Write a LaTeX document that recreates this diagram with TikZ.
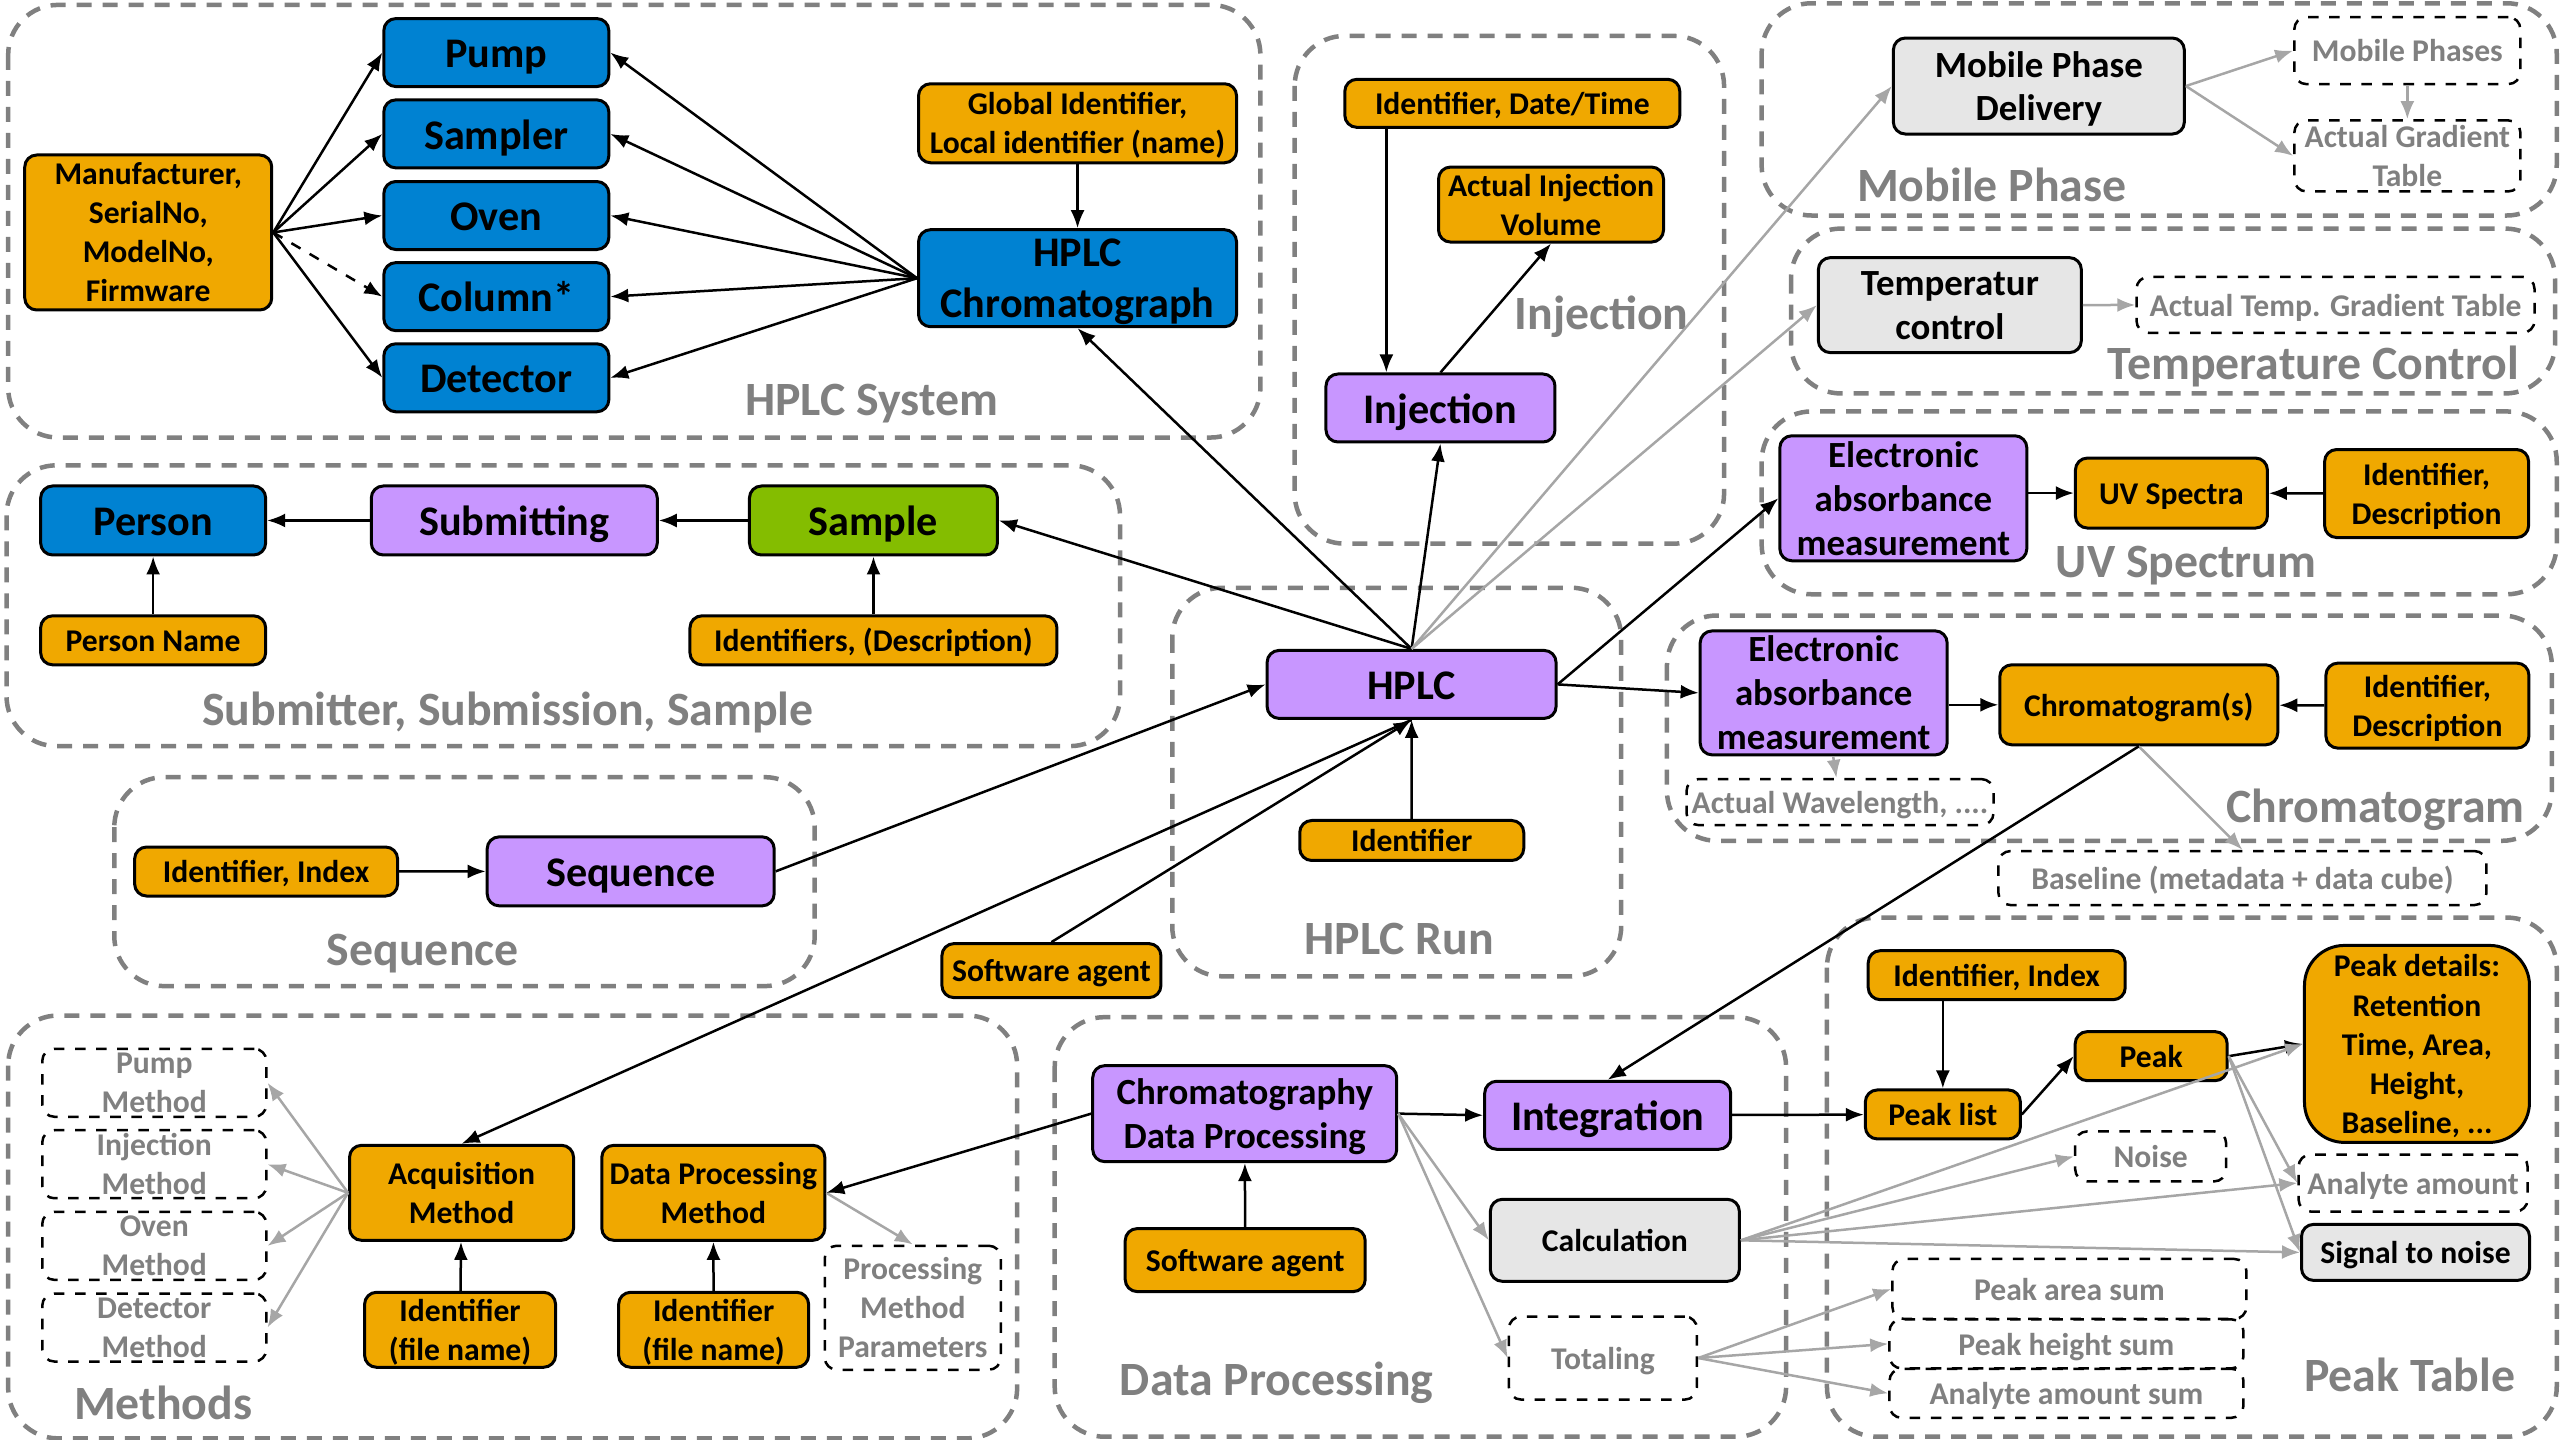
\documentclass[tikz,border=0pt]{standalone}
\usepackage{fontspec}
\setmainfont{Carlito}
\usetikzlibrary{arrows.meta}

\definecolor{hblue}{RGB}{0,130,210}
\definecolor{horange}{RGB}{240,168,0}
\definecolor{hpurple}{RGB}{200,150,255}
\definecolor{hgreen}{RGB}{132,189,0}
\definecolor{hgrey}{RGB}{230,230,230}
\definecolor{htext}{RGB}{128,128,128}
\definecolor{hline}{RGB}{166,166,166}

\newcommand{\bigtxt}{\fontsize{12}{14.4}\selectfont\bfseries}
\newcommand{\midtxt}{\fontsize{10.5}{12.5}\selectfont\bfseries}
\newcommand{\smalltxt}{\fontsize{9}{11.1}\selectfont\bfseries}
\newcommand{\grouptxt}{\fontsize{13.6}{16}\selectfont\bfseries}
\newcommand{\boxstrut}{\rule[-0.22em]{0pt}{1.16em}}

\tikzset{
  box/.style={draw=black, line width=0.3mm, rounded corners=1.2mm, inner sep=0pt, align=center,
    execute at begin node=\boxstrut, execute at end node=\boxstrut},
  multi/.style={text depth=-0.4pt},
  sz/.style 2 args={minimum width=#1mm, minimum height=#2mm},
  bluebox/.style={box, fill=hblue, font=\bigtxt},
  purplebox/.style={box, fill=hpurple, font=\bigtxt},
  greenbox/.style={box, fill=hgreen, font=\bigtxt},
  orangebox/.style={box, fill=horange, font=\smalltxt},
  greybox/.style={box, fill=hgrey, font=\midtxt},
  dashbox/.style={box, draw=black, dashed, line width=0.25mm, text=htext, font=\smalltxt},
  group/.style={draw=htext, line width=0.45mm, dash pattern=on 1.5mm off 1.1mm, rounded corners=5mm},
  grouplabel/.style={text=htext, font=\grouptxt, inner sep=0pt,
    execute at begin node=\boxstrut, execute at end node=\boxstrut},
  arr/.style={-{Latex[length=1.8mm,width=1.4mm]}, line width=0.25mm},
  garr/.style={arr, draw=hline}
}

\begin{document}
\begin{tikzpicture}[x=0.16327mm, y=-0.16327mm]
  \useasboundingbox (0,0) rectangle (1568,882);
  % groups
  \draw[group] (5,3) rectangle (772,268);
  \draw[group] (793,22) rectangle (1056,333);
  \draw[group] (1079,2) rectangle (1566,132);
  \draw[group] (1097,140) rectangle (1565,241);
  \draw[group] (1079,252) rectangle (1566,364);
  \draw[group] (4,285) rectangle (686,457);
  \draw[group] (718,360) rectangle (993,598);
  \draw[group] (1021,377) rectangle (1563,515);
  \draw[group] (70,476) rectangle (499,604);
  \draw[group] (5,622) rectangle (623,881);
  \draw[group] (646,623) rectangle (1094,880);
  \draw[group] (1119,562) rectangle (1566,880);
  \node[grouplabel] (lsystem) at (534,244) {HPLC System};
  \node[grouplabel] (linjection) at (981,191) {Injection};
  \node[grouplabel] (lmobile) at (1220,113) {Mobile Phase};
  \node[grouplabel] (ltemp) at (1417,222) {Temperature Control};
  \node[grouplabel] (luv) at (1339,343) {UV Spectrum};
  \node[grouplabel] (lsubmit) at (311,434) {Submitter, Submission, Sample};
  \node[grouplabel] (lrun) at (857,574) {HPLC Run};
  \node[grouplabel] (lchrom) at (1455,493) {Chromatogram};
  \node[grouplabel] (lsequence) at (259,581) {Sequence};
  \node[grouplabel] (lmethods) at (100,859) {Methods};
  \node[grouplabel] (ldata) at (782,844) {Data Processing};
  \node[grouplabel] (lpeak) at (1476,842) {Peak Table};

  % HPLC system
  \node[bluebox, sz={22.5}{6.8}] (pump) at (304,32.2) {Pump};
  \node[bluebox, sz={22.5}{6.8}] (sampler) at (304,82) {Sampler};
  \node[bluebox, sz={22.5}{6.8}] (oven) at (304,132) {Oven};
  \node[bluebox, sz={22.5}{6.8}] (column) at (304,181.7) {Column*};
  \node[bluebox, sz={22.5}{6.8}] (detector) at (304,231.4) {Detector};
  \node[orangebox, multi, sz={24.7}{15.5}] (manuf) at (90.8,142.4) {Manufacturer,\\SerialNo,\\ModelNo,\\Firmware};
  \node[orangebox, multi, sz={31.8}{7.9}] (globalid) at (660,75.5) {Global Identifier,\\Local identifier (name)};
  \node[bluebox, multi, sz={31.8}{9.7}] (chromatograph) at (660,170.4) {HPLC\\Chromatograph};

  % injection
  \node[orangebox, sz={33.5}{4.8}] (iddate) at (926.3,63.3) {Identifier, Date/Time};
  \node[orangebox, multi, sz={22.5}{7.5}] (volume) at (950,125.3) {Actual Injection\\Volume};
  \node[purplebox, sz={22.9}{6.8}] (injection) at (882.3,249.9) {Injection};

  % mobile phase, temperature
  \node[greybox, multi, sz={29.1}{9.6}] (mpdelivery) at (1248.8,52.7) {Mobile Phase\\Delivery};
  \node[dashbox, sz={22.6}{6.7}] (mphases) at (1474.5,31) {Mobile Phases};
  \node[dashbox, multi, sz={22.6}{7.1}] (gradient) at (1474.5,95.5) {Actual Gradient\\Table};
  \node[greybox, multi, sz={26.3}{9.5}] (tempctrl) at (1194.3,186.9) {Temperatur\\control};
  \node[dashbox, sz={39.8}{5.6}] (tempgrad) at (1430.5,186.7) {Actual Temp. Gradient Table};

  % UV spectrum
  \node[purplebox, multi, font=\midtxt, sz={24.7}{12.5}] (uvabs) at (1165.8,305.2) {Electronic\\absorbance\\measurement};
  \node[orangebox, sz={19.2}{7}] (uvspectra) at (1330,302) {UV Spectra};
  \node[orangebox, multi, sz={20.4}{8.8}] (uvid) at (1486.3,302.3) {Identifier,\\Description};

  % submitter, sample
  \node[bluebox, sz={22.5}{6.9}] (person) at (93.8,318.8) {Person};
  \node[purplebox, sz={28.6}{6.9}] (submitting) at (315,318.8) {Submitting};
  \node[greenbox, sz={24.8}{6.9}] (sample) at (535,318.8) {Sample};
  \node[orangebox, sz={22.5}{4.9}] (personname) at (93.8,392.2) {Person Name};
  \node[orangebox, sz={36.7}{4.9}] (sampleid) at (535,392.2) {Identifiers, (Description)};

  % HPLC run
  \node[purplebox, sz={28.9}{6.8}] (hplc) at (864.6,419.2) {HPLC};
  \node[orangebox, sz={22.4}{4}] (runid) at (864.7,514.8) {Identifier};
  \node[orangebox, sz={21.9}{5.4}] (swagent) at (644,594.5) {Software agent};

  % chromatogram
  \node[purplebox, multi, font=\midtxt, sz={24.7}{12.4}] (chabs) at (1117,424.4) {Electronic\\absorbance\\measurement};
  \node[orangebox, sz={27.8}{8}] (chroms) at (1310,431.7) {Chromatogram(s)};
  \node[orangebox, multi, sz={20.3}{8.5}] (chid) at (1486.8,432.2) {Identifier,\\Description};
  \node[dashbox, sz={30.7}{4.6}] (wavelength) at (1127,491.3) {Actual Wavelength, ....};
  \node[dashbox, sz={48.8}{5.4}] (baseline) at (1373.5,537.8) {Baseline (metadata + data cube)};

  % sequence
  \node[orangebox, sz={26.3}{4.9}] (seqid) at (163,533.8) {Identifier, Index};
  \node[purplebox, sz={28.7}{6.9}] (sequence) at (386.3,533.7) {Sequence};

  % methods
  \node[dashbox, multi, sz={22.4}{6.8}] (pumpm) at (94.5,663.2) {Pump\\Method};
  \node[dashbox, multi, sz={22.4}{6.8}] (injm) at (94.5,713.1) {Injection\\Method};
  \node[dashbox, multi, sz={22.4}{6.8}] (ovenm) at (94.5,763.1) {Oven\\Method};
  \node[dashbox, multi, sz={22.4}{6.8}] (detm) at (94.5,813.1) {Detector\\Method};
  \node[orangebox, multi, sz={22.4}{9.5}] (acqm) at (282.7,730.6) {Acquisition\\Method};
  \node[orangebox, multi, sz={22.3}{9.5}] (dpm) at (436.9,730.6) {Data Processing\\Method};
  \node[orangebox, multi, sz={19.1}{7.5}] (acqid) at (281.8,814.5) {Identifier\\(file name)};
  \node[orangebox, multi, sz={19}{7.5}] (dpid) at (437.1,814.5) {Identifier\\(file name)};
  \node[dashbox, multi, sz={17.6}{12.4}] (params) at (559.1,801) {Processing\\Method\\Parameters};

  % data processing
  \node[purplebox, multi, font=\midtxt, sz={30.4}{9.6}] (cdp) at (762.4,682.1) {Chromatography\\Data Processing};
  \node[orangebox, sz={24}{6.3}] (dpagent) at (762.7,771.8) {Software agent};
  \node[purplebox, sz={24.6}{6.8}] (integration) at (984.7,683.1) {Integration};
  \node[greybox, font=\smalltxt, sz={24.9}{8.2}] (calculation) at (989.1,759.7) {Calculation};
  \node[dashbox, sz={18.8}{8.3}] (totaling) at (981.8,831.8) {Totaling};

  % peak table
  \node[orangebox, sz={25.7}{4.9}] (pkid) at (1223,597.3) {Identifier, Index};
  \node[orangebox, sz={15.5}{4.9}] (peaklist) at (1190,682.6) {Peak list};
  \node[orangebox, sz={15.2}{4.9}] (peak) at (1317.6,646.9) {Peak};
  \node[orangebox, multi, rounded corners=4mm, sz={22.5}{19.7}] (details) at (1480.4,639.4)
    {Peak details:\\Retention\\Time, Area,\\Height,\\Baseline, ...};
  \node[dashbox, sz={15.1}{5}] (noise) at (1317.3,708.3) {Noise};
  \node[dashbox, sz={22.9}{5.7}] (analyte) at (1478,724.6) {Analyte amount};
  \node[greybox, font=\smalltxt, sz={22.8}{5.6}] (sn) at (1479.5,767.1) {Signal to noise};
  \node[dashbox, sz={35.4}{6}] (areasum) at (1267.5,789.5) {Peak area sum};
  \node[dashbox, sz={35.4}{4.9}] (heightsum) at (1265.7,823.1) {Peak height sum};
  \node[dashbox, sz={35.4}{4.9}] (analytesum) at (1265.7,853.4) {Analyte amount sum};

  % edges: HPLC system
  \draw[arr] (manuf.east) -- (pump.west);
  \draw[arr] (manuf.east) -- (sampler.west);
  \draw[arr] (manuf.east) -- (oven.west);
  \draw[arr, dashed] (manuf.east) -- (column.west);
  \draw[arr] (manuf.east) -- (detector.west);
  \foreach \n in {pump,sampler,oven,column,detector}
    \draw[arr] (chromatograph.west) -- (\n.east);
  \draw[arr] (globalid) -- (chromatograph);
  % edges: injection
  \draw[arr] ([xshift=-12.6mm]iddate.south) -- ([xshift=-12.6mm]iddate.south |- injection.north);
  \draw[arr] (injection.north) -- (volume.south);
  % edges: mobile phase, temperature, UV
  \draw[garr] (mpdelivery.east) -- (mphases.west);
  \draw[garr] (mpdelivery.east) -- (gradient.west);
  \draw[garr] (mphases) -- (gradient);
  \draw[garr] (tempctrl) -- (tempgrad);
  \draw[arr] (uvabs.east |- uvspectra.west) -- (uvspectra.west);
  \draw[arr] (uvid) -- (uvspectra);
  % edges: submitter
  \draw[arr] (sample) -- (submitting);
  \draw[arr] (submitting) -- (person);
  \draw[arr] (personname) -- (person);
  \draw[arr] (sampleid) -- (sample);
  % edges: HPLC run
  \draw[arr] (hplc.north) -- (chromatograph.south);
  \draw[arr] (hplc.north) -- (injection.south);
  \draw[arr] (hplc.north) -- (sample.east);
  \draw[garr] (hplc.north) -- (mpdelivery.west);
  \draw[garr] (hplc.north) -- (tempctrl.west);
  \draw[arr] (hplc.east) -- (uvabs.west);
  \draw[arr] (hplc.east) -- (chabs.west);
  \draw[arr] (sequence.east) -- (hplc.west);
  \draw[arr] (seqid) -- (sequence);
  \draw[arr] (runid) -- (hplc);
  \draw[arr] (swagent.north) -- (hplc.south);
  \draw[arr] (hplc.south) -- (acqm.north);
  % edges: chromatogram
  \draw[arr] (chabs.east |- chroms.west) -- (chroms.west);
  \draw[arr] (chid) -- (chroms);
  \draw[garr] (chabs) -- (wavelength);
  \draw[garr] (chroms.south) -- (baseline.north);
  \draw[arr] (chroms.south) -- (integration.north);
  % edges: methods
  \foreach \m in {pumpm,injm,ovenm,detm}
    \draw[garr] (acqm.west) -- (\m.east);
  \draw[arr] (acqid) -- (acqm);
  \draw[arr] (dpid) -- (dpm);
  \draw[garr] (dpm.east) -- (params.north);
  \draw[arr] (cdp.west) -- (dpm.east);
  % edges: data processing
  \draw[arr] (dpagent) -- (cdp);
  \draw[arr] (cdp.east) -- (integration.west);
  \draw[garr] (cdp.east) -- (calculation.west);
  \draw[garr] (cdp.east) -- (totaling.west);
  % edges: peak table
  \draw[arr] (integration) -- (peaklist);
  \draw[arr] (pkid.south -| peaklist.north) -- (peaklist.north);
  \draw[arr] (peaklist.east) -- (peak.west);
  \draw[arr] (peak.east) -- (details.west);
  \foreach \t in {details,noise,analyte,sn}
    \draw[garr] (calculation.east) -- (\t.west);
  \draw[garr] (peak.east) -- (analyte.west);
  \draw[garr] (peak.east) -- (sn.west);
  \foreach \t in {areasum,heightsum,analytesum}
    \draw[garr] (totaling.east) -- (\t.west);
\end{tikzpicture}
\end{document}
